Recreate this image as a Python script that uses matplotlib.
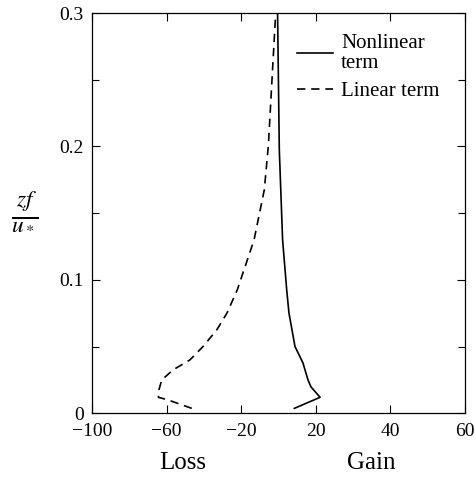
import matplotlib
matplotlib.use("Agg")
import matplotlib.pyplot as plt
from matplotlib.ticker import MultipleLocator

plt.rcParams['font.family'] = ['Liberation Serif', 'DejaVu Serif']
plt.rcParams['mathtext.fontset'] = 'stix'

# Nonlinear term (x in axis units -100..100, y = zf/u*)
nl_z = [0.0037, 0.012, 0.0198, 0.0251, 0.0378, 0.050, 0.0752, 0.0925, 0.130, 0.1975, 0.30]
nl_x = [8.5, 22.3, 17.4, 15.8, 13.1, 8.85, 5.6, 4.4, 2.2, 0.43, -0.5]

# Linear term
li_z = [0.0037, 0.010, 0.012, 0.0162, 0.025, 0.0325, 0.040, 0.050, 0.0625, 0.0752, 0.0925, 0.130, 0.1676, 0.2013, 0.26, 0.30]
li_x = [-46.5, -59.2, -64.4, -64.4, -62.6, -56.6, -47.5, -40.5, -33.1, -27.6, -22.1, -13.1, -7.6, -5.4, -3.1, -1.5]

xtick_pos = [-100, -60, -20, 20, 60, 100]
xtick_labels = ['\u2212100', '\u221260', '\u221220', '20', '40', '60']
ytick_pos = [0, 0.1, 0.2, 0.3]
ytick_labels = ['0', '0.1', '0.2', '0.3']

fig = plt.figure(figsize=(4.75, 4.78), dpi=100)
ax = fig.add_axes([92/475, 1-413.3/478, (465-92)/475, (413.3-13)/478])

ax.plot(nl_x, nl_z, color='black', lw=1.2, ls='-', label='Nonlinear\nterm')
ax.plot(li_x, li_z, color='black', lw=1.2, ls=(0, (5, 3.5)), label='Linear term')

ax.set_xlim(-100, 100)
ax.set_ylim(0, 0.3)
ax.set_xticks(xtick_pos)
ax.set_xticklabels(xtick_labels)
ax.set_yticks(ytick_pos)
ax.set_yticklabels(ytick_labels)
ax.yaxis.set_minor_locator(MultipleLocator(0.05))
ax.tick_params(which='both', direction='in', top=True, right=True, labelsize=14, width=0.8)
ax.tick_params(which='major', length=6)
ax.tick_params(which='minor', length=5)
ax.tick_params(axis='x', pad=7)
ax.tick_params(axis='y', pad=6)
for s in ax.spines.values():
    s.set_linewidth(0.9)

leg = ax.legend(loc='upper left', bbox_to_anchor=((297-92)/373, (413.3-34)/400.3),
                frameon=False, fontsize=15, borderpad=0, borderaxespad=0,
                handlelength=1.73, handletextpad=0.38, labelspacing=0.4)
for t in leg.get_texts():
    t.set_linespacing(1.1)

fig.text(183/475, 1-463/478, 'Loss', ha='center', va='center', fontsize=18)
fig.text(371/475, 1-463/478, 'Gain', ha='center', va='center', fontsize=18)
fig.text(25/475, 1-210/478, r'$\frac{zf}{u_*}$', ha='center', va='center', fontsize=24)

fig.savefig('out.png', dpi=100)
